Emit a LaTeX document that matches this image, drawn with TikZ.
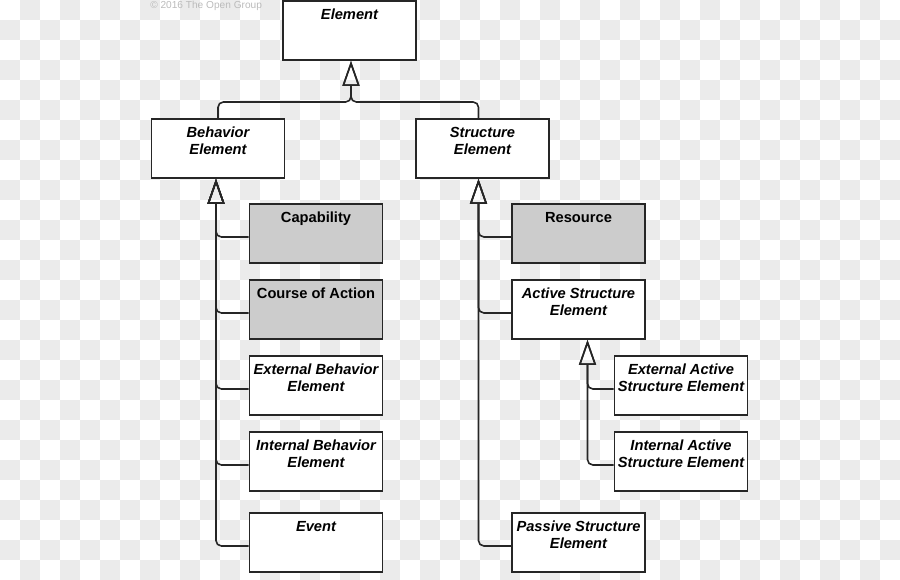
\documentclass[tikz,border=0pt]{standalone}
\usepackage{fontspec}
\setmainfont{Liberation Sans}
\usetikzlibrary{arrows.meta}
\definecolor{chkGray}{HTML}{EBEBEB}
\definecolor{coreGray}{HTML}{CCCCCC}
\definecolor{lineGray}{HTML}{262626}
\definecolor{markGray}{HTML}{BBBBBB}
\tikzset{
  box/.style={draw=lineGray, line width=1.4pt, fill=white, inner sep=0pt,
              minimum width=133*0.75pt, minimum height=59*0.75pt},
  ttl/.style={inner sep=0pt, align=center, anchor=north, yshift=-6.5pt,
              font=\fontsize{11}{12.75}\selectfont\bfseries\itshape},
  elem/.style={box, label={[ttl]north:#1}},
  core/.style={box, fill=coreGray,
               label={[ttl, font=\fontsize{11}{12.75}\selectfont\bfseries]north:#1}},
  spec/.style={draw=lineGray, line width=1.2pt, rounded corners=4pt,
               -{Triangle[open, length=18.75pt, width=12.75pt]}},
}

\begin{document}
\begin{tikzpicture}[x=0.75pt, y=-0.75pt]
    \useasboundingbox (0,0) rectangle (900,580);
    \foreach \i in {0,...,44} {
      \foreach \j in {0,...,28} {
        \ifodd\numexpr\i+\j\relax \fill[chkGray] (\i*20,\j*20) rectangle ++(20,20); \fi
      }
    }
    \node[anchor=west, inner sep=0pt, text=markGray, font=\fontsize{7.6}{9}\selectfont]
      (mark) at (150,6) {© 2016 The Open Group};

    \node[elem=Element] (top) at (349.5,30.5) {};
    \node[elem={Behavior\\Element}] (beh) at (218,148.5) {};
    \node[elem={Structure\\Element}] (str) at (482.5,148.5) {};

    \node[core=Capability] (cap) at (316,233.5) {};
    \node[core={Course of Action}] (coa) at (316,309.5) {};
    \node[elem={External Behavior\\Element}] (ebe) at (316,385.5) {};
    \node[elem={Internal Behavior\\Element}] (ibe) at (316,461.5) {};
    \node[elem=Event] (evt) at (316,542.5) {};

    \node[core=Resource] (res) at (578.5,233.5) {};
    \node[elem={Active Structure\\Element}] (ase) at (578.5,309.5) {};
    \node[elem={External Active\\Structure Element}] (eas) at (681,385.5) {};
    \node[elem={Internal Active\\Structure Element}] (ias) at (681,461.5) {};
    \node[elem={Passive Structure\\Element}] (pse) at (578.5,542.5) {};

    \coordinate (join) at (351,102);
    \draw[spec] (beh.north) |- (join) -- (join |- top.south);
    \draw[spec] ([xshift=-3pt]str.north) |- (join) -- (join |- top.south);
    \foreach \nm in {cap, coa, ebe, ibe, evt}
      \draw[spec] ([yshift=-2.6pt]\nm.west) -| ([xshift=-1.5pt]beh.south);
    \foreach \nm in {res, ase, pse}
      \draw[spec] ([yshift=-2.6pt]\nm.west) -| ([xshift=-3pt]str.south);
    \foreach \nm in {eas, ias}
      \draw[spec] ([yshift=-2.6pt]\nm.west) -| ([xshift=6.75pt]ase.south);
  \end{tikzpicture}
\end{document}
